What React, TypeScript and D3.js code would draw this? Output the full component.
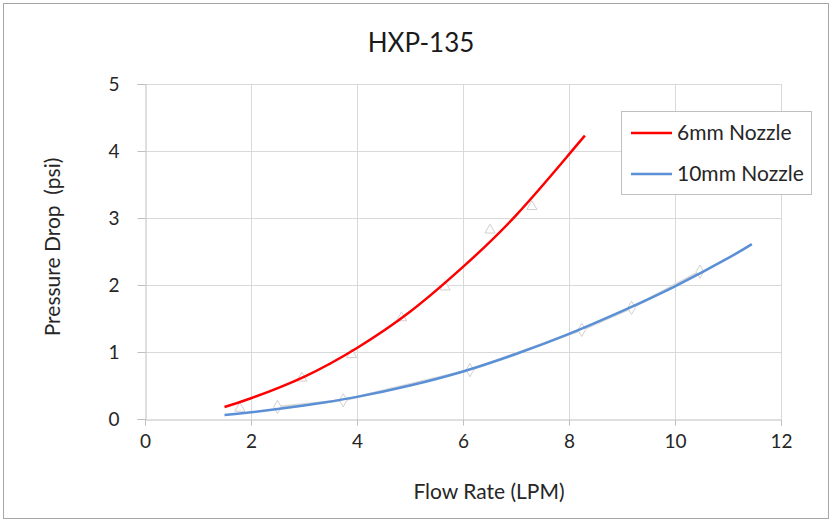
import React, { useEffect, useRef } from 'react'
import * as d3 from 'd3'

// measured points (light grey markers)
const flow6 = [1.79, 2.96, 3.9, 4.84, 5.66, 6.51, 7.3]
const drop6 = [0.16, 0.61, 0.96, 1.51, 1.97, 2.82, 3.17]
const flow10 = [2.5, 3.74, 6.13, 8.24, 9.18, 10.47]
const drop10 = [0.18, 0.28, 0.73, 1.33, 1.66, 2.2]

// trendlines
const trendX6 = [1.5, 2, 3, 4, 5, 6, 7, 8, 8.3]
const trendY6 = [0.18, 0.31, 0.63, 1.06, 1.6, 2.27, 3.04, 3.95, 4.23]
const trendX10 = [1.5, 2, 3, 4, 5, 6, 7, 8, 9, 10, 11, 11.45]
const trendY10 = [0.06, 0.1, 0.2, 0.33, 0.5, 0.71, 0.97, 1.27, 1.61, 1.98, 2.4, 2.61]

const xTicks = [0, 2, 4, 6, 8, 10, 12]
const yTicks = [0, 1, 2, 3, 4, 5]
const seriesNames = ['6mm Nozzle', '10mm Nozzle']
const seriesColors = ['#ff0000', '#5b8fd6']

const FONT = 'Lato, Calibri, sans-serif'

function App() {
  const ref = useRef<SVGSVGElement>(null)

  useEffect(() => {
    const svg = d3.select(ref.current)
    svg.selectAll('*').remove()

    const x = d3.scaleLinear().domain([0, 12]).range([145, 781])
    const y = d3.scaleLinear().domain([0, 5]).range([419, 84])

    // chart border
    svg.append('rect')
      .attr('x', 3.5).attr('y', 3.5).attr('width', 825).attr('height', 515)
      .attr('fill', 'white').attr('stroke', '#a6a6a6')

    // grid
    const g = svg.append('g')
    g.selectAll('.gx').data(xTicks.slice(1)).join('line')
      .attr('x1', d => Math.round(x(d)) + 0.5).attr('x2', d => Math.round(x(d)) + 0.5)
      .attr('y1', y(5)).attr('y2', y(0))
      .attr('stroke', '#d9d9d9')
    g.selectAll('.gy').data(yTicks.slice(1)).join('line')
      .attr('x1', x(0)).attr('x2', x(12))
      .attr('y1', d => Math.round(y(d)) + 0.5).attr('y2', d => Math.round(y(d)) + 0.5)
      .attr('stroke', '#d9d9d9')

    // axes
    const xAxis = svg.append('g').attr('transform', `translate(0,${Math.round(y(0)) + 0.5})`)
      .call(d3.axisBottom(x).tickValues(xTicks).tickSize(6).tickPadding(9).tickFormat(d3.format('d')))
    const yAxis = svg.append('g').attr('transform', `translate(${Math.round(x(0)) + 0.5},0)`)
      .call(d3.axisLeft(y).tickValues(yTicks).tickSize(8).tickPadding(18).tickFormat(d3.format('d')))
    ;[xAxis, yAxis].forEach(a => {
      a.select('.domain').attr('stroke', '#bfbfbf')
      a.selectAll('.tick line').attr('stroke', '#bfbfbf')
      a.selectAll('.tick text').attr('fill', '#262626')
        .style('font-family', FONT).style('font-size', '19px')
    })

    const pts = (xs: number[], ys: number[]) => xs.map((v, i) => [v, ys[i]] as [number, number])
    const raw = d3.line<[number, number]>().x(d => x(d[0])).y(d => y(d[1]))
    const smooth = d3.line<[number, number]>().x(d => x(d[0])).y(d => y(d[1])).curve(d3.curveNatural)

    // measured series: light grey markers (10mm joined by a grey line)
    const measured = [pts(flow6, drop6), pts(flow10, drop10)]
    svg.append('path').attr('d', raw(measured[1])).attr('fill', 'none')
      .attr('stroke', '#d9d9d9').attr('stroke-width', 2.5)
    const tri = d3.symbol().type(d3.symbolTriangle).size(45)
    const dia = d3.symbol().type(d3.symbolDiamond).size(50)
    svg.append('g').selectAll('path').data(measured[0]).join('path')
      .attr('d', tri()).attr('transform', d => `translate(${x(d[0])},${y(d[1])})`)
      .attr('fill', 'white').attr('stroke', '#d0d0d0')
    svg.append('g').selectAll('path').data(measured[1]).join('path')
      .attr('d', dia()).attr('transform', d => `translate(${x(d[0])},${y(d[1])})`)
      .attr('fill', 'white').attr('stroke', '#d0d0d0')

    // trendlines
    const trends = [pts(trendX6, trendY6), pts(trendX10, trendY10)]
    trends.forEach((data, i) => {
      svg.append('path').attr('d', smooth(data)).attr('fill', 'none')
        .attr('stroke', seriesColors[i]).attr('stroke-width', 2.5)
    })

    // title + axis titles
    svg.append('text').attr('x', 421).attr('y', 52).attr('text-anchor', 'middle')
      .style('font-family', FONT).style('font-size', '26px').attr('fill', '#1a1a1a')
      .text('HXP-135')
    svg.append('text').attr('x', 489).attr('y', 499).attr('text-anchor', 'middle')
      .style('font-family', FONT).style('font-size', '21px').attr('fill', '#262626')
      .text('Flow Rate (LPM)')
    svg.append('text').attr('transform', 'translate(60,247) rotate(-90)').attr('text-anchor', 'middle')
      .style('font-family', FONT).style('font-size', '21px').attr('fill', '#262626')
      .attr('xml:space', 'preserve').style('white-space', 'pre')
      .text('Pressure Drop  (psi)')

    // legend
    const lg = svg.append('g')
    lg.append('rect').attr('x', 621.5).attr('y', 111.5).attr('width', 190).attr('height', 83)
      .attr('fill', 'white').attr('stroke', '#bfbfbf')
    seriesNames.forEach((name, i) => {
      const ly = 133 + i * 41
      lg.append('line').attr('x1', 631).attr('x2', 672).attr('y1', ly).attr('y2', ly)
        .attr('stroke', seriesColors[i]).attr('stroke-width', 2.5)
      lg.append('text').attr('x', 677).attr('y', ly + 7)
        .style('font-family', FONT).style('font-size', '21px').attr('fill', '#262626')
        .text(name)
    })
  }, [])

  return (
    <svg ref={ref} width={832} height={522}
      style={{ position: 'absolute', left: 0, top: 0, background: 'white' }} />
  )
}

export default App
